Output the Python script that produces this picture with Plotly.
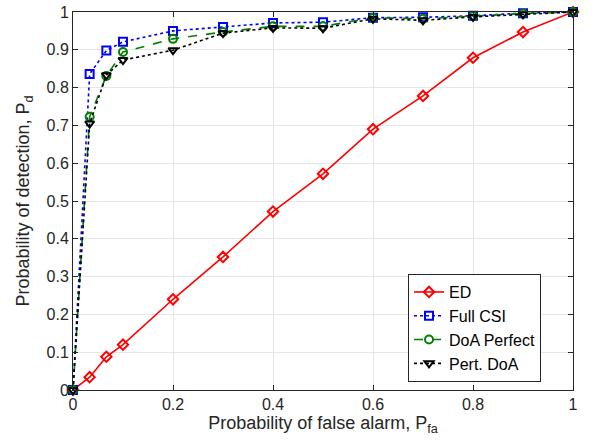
import plotly.graph_objects as go

pfa = [0, 0.0333, 0.0667, 0.1, 0.2, 0.3, 0.4, 0.5, 0.6, 0.7, 0.8, 0.9, 1.0]
ed = [0, 0.034, 0.088, 0.12, 0.24, 0.352, 0.472, 0.572, 0.69, 0.778, 0.879, 0.947, 1.0]
full_csi = [0, 0.836, 0.898, 0.921, 0.95, 0.96, 0.971, 0.973, 0.985, 0.986, 0.99, 0.997, 1.0]
doa_perfect = [0, 0.723, 0.831, 0.894, 0.929, 0.947, 0.962, 0.962, 0.985, 0.982, 0.989, 0.996, 1.0]
pert_doa = [0, 0.705, 0.833, 0.873, 0.899, 0.944, 0.958, 0.957, 0.982, 0.978, 0.987, 0.994, 1.0]

xticks = [0, 0.2, 0.4, 0.6, 0.8, 1]
yticks = [0, 0.1, 0.2, 0.3, 0.4, 0.5, 0.6, 0.7, 0.8, 0.9, 1]

series = [
    ("ED", ed, "#ff0000", "solid", "diamond-open"),
    ("Full CSI", full_csi, "#0000ff", "dot", "square-open"),
    ("DoA Perfect", doa_perfect, "#008000", "dash", "circle-open"),
    ("Pert. DoA", pert_doa, "#000000", "dot", "triangle-down-open"),
]

fig = go.Figure()
for name, vals, color, dash, sym in series:
    fig.add_trace(go.Scatter(
        x=pfa, y=vals, name=name, mode="lines+markers",
        line=dict(color=color, dash=dash, width=1.6),
        marker=dict(symbol=sym, size=8, color=color, line=dict(width=2, color=color)),
        cliponaxis=False,
    ))

font = "Liberation Sans, Arial, Helvetica, sans-serif"
axis_common = dict(
    range=[0, 1], showgrid=True, gridcolor="#e6e6e6", gridwidth=1,
    showline=True, linecolor="#262626", linewidth=1, mirror="ticks",
    ticks="inside", ticklen=5, tickcolor="#262626", zeroline=False,
    tickfont=dict(family=font, size=16, color="#262626"),
    automargin=False,
)
fig.update_layout(
    width=600, height=445,
    margin=dict(l=73, r=27, t=12, b=55),
    paper_bgcolor="white", plot_bgcolor="white",
    font=dict(family=font, color="#262626"),
    xaxis=dict(**axis_common, tickvals=xticks, ticktext=[f"{v:g}" for v in xticks],
               title=dict(text="Probability of false alarm, P<sub>fa</sub>", font=dict(size=18), standoff=2)),
    yaxis=dict(**axis_common, tickvals=yticks, ticktext=[f"{v:g}" for v in yticks],
               title=dict(text="Probability of detection, P<sub>d</sub>", font=dict(size=18), standoff=12)),
    legend=dict(x=0.67, y=0.021, xanchor="left", yanchor="bottom",
                bgcolor="white", bordercolor="#262626", borderwidth=1,
                font=dict(size=16, family=font, color="#000000"),
                tracegroupgap=0, itemwidth=30),
    showlegend=True,
)
fig.write_html("out.html", config={"displayModeBar": False},
               post_script="document.body.style.margin='0px';")
